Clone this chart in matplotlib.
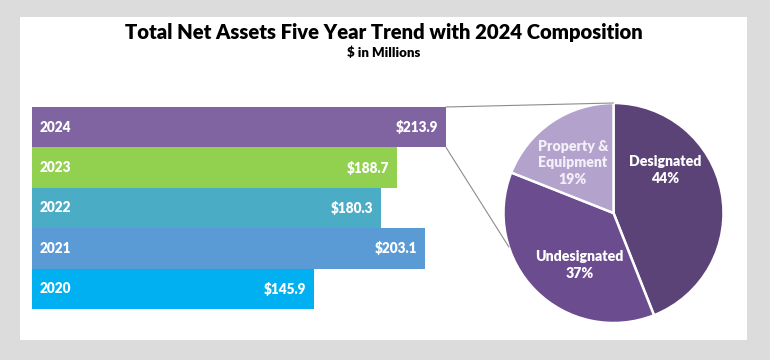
import matplotlib

matplotlib.use("Agg")
import matplotlib.pyplot as plt
from matplotlib.patches import Rectangle, ConnectionPatch
import numpy as np

# data
years = ["2020", "2021", "2022", "2023", "2024"]
net_assets = [145.9, 203.1, 180.3, 188.7, 213.9]
bar_colors = ["#00b0f0", "#5b9bd5", "#4bacc6", "#92d050", "#8064a2"]

pie_labels = ["Designated", "Undesignated", "Property &\nEquipment"]
pie_shares = [44, 37, 19]
pie_colors = ["#5c4377", "#6a4c8f", "#b3a2cc"]

W, H = 770, 360
FONT = ["Lato", "DejaVu Sans"]


def fig_box(x0, y0, x1, y1):
    """Pixel box (top-left origin) -> figure fraction rect."""
    return [x0 / W, 1 - y1 / H, (x1 - x0) / W, (y1 - y0) / H]


fig = plt.figure(figsize=(W / 100, H / 100), dpi=100, facecolor="#dcdcdc")
fig.add_artist(Rectangle((20 / W, 1 - 340 / H), 727 / W, 323 / H,
                         transform=fig.transFigure, facecolor="white",
                         edgecolor="none", zorder=0))

fig.text(384 / W, 1 - 33 / H, "Total Net Assets Five Year Trend with 2024 Composition",
         ha="center", va="center", fontsize=14.6, fontweight="heavy", family=FONT,
         color="black")
fig.text(384 / W, 1 - 53 / H, "$ in Millions", ha="center", va="center",
         fontsize=9.5, fontweight="heavy", family=FONT, color="black")

# bars
ax = fig.add_axes(fig_box(32, 107, 446, 309))
ypos = np.arange(len(years))
ax.barh(ypos, net_assets, height=1.0, color=bar_colors, edgecolor="none")
ax.set_xlim(0, max(net_assets))
ax.set_ylim(-0.5, len(years) - 0.5)
ax.axis("off")
for y, yr, v in zip(ypos, years, net_assets):
    ax.text(max(net_assets) * 0.019, y, yr, ha="left", va="center", color="white",
            fontsize=9.8, fontweight="heavy", family=FONT)
    ax.text(v - max(net_assets) * 0.019, y, f"${v:.1f}", ha="right", va="center",
            color="white", fontsize=9.8, fontweight="heavy", family=FONT)

# pie
pax = fig.add_axes(fig_box(503.5, 103, 723.5, 323))
wedges, _ = pax.pie(pie_shares, colors=pie_colors, startangle=90, counterclock=False,
                    radius=1, wedgeprops=dict(edgecolor="white", linewidth=1.8))
pax.set_xlim(-1, 1)
pax.set_ylim(-1, 1)
pax.set_aspect("equal")
pax.axis("off")

label_pos = [(0.47, 0.39), (-0.31, -0.47), (-0.37, 0.455)]
label_colors = ["white", "white", "#f4f0f9"]
for (lx, ly), name, share, c in zip(label_pos, pie_labels, pie_shares, label_colors):
    pax.text(lx, ly, f"{name}\n{share}%", ha="center", va="center", color=c,
             fontsize=10.2, fontweight="heavy", family=FONT, linespacing=1.35)

# connector lines from the 2024 bar to the pie
top = len(years) - 0.5
ang = np.deg2rad(198)
for yb, xy_pie in ((top, (0, 1)), (top - 1, (np.cos(ang), np.sin(ang)))):
    con = ConnectionPatch(xyA=(net_assets[-1], yb), coordsA=ax.transData,
                          xyB=xy_pie, coordsB=pax.transData,
                          color="#8c8c8c", linewidth=0.8)
    fig.add_artist(con)

fig.savefig("out.png", dpi=100, facecolor=fig.get_facecolor())
